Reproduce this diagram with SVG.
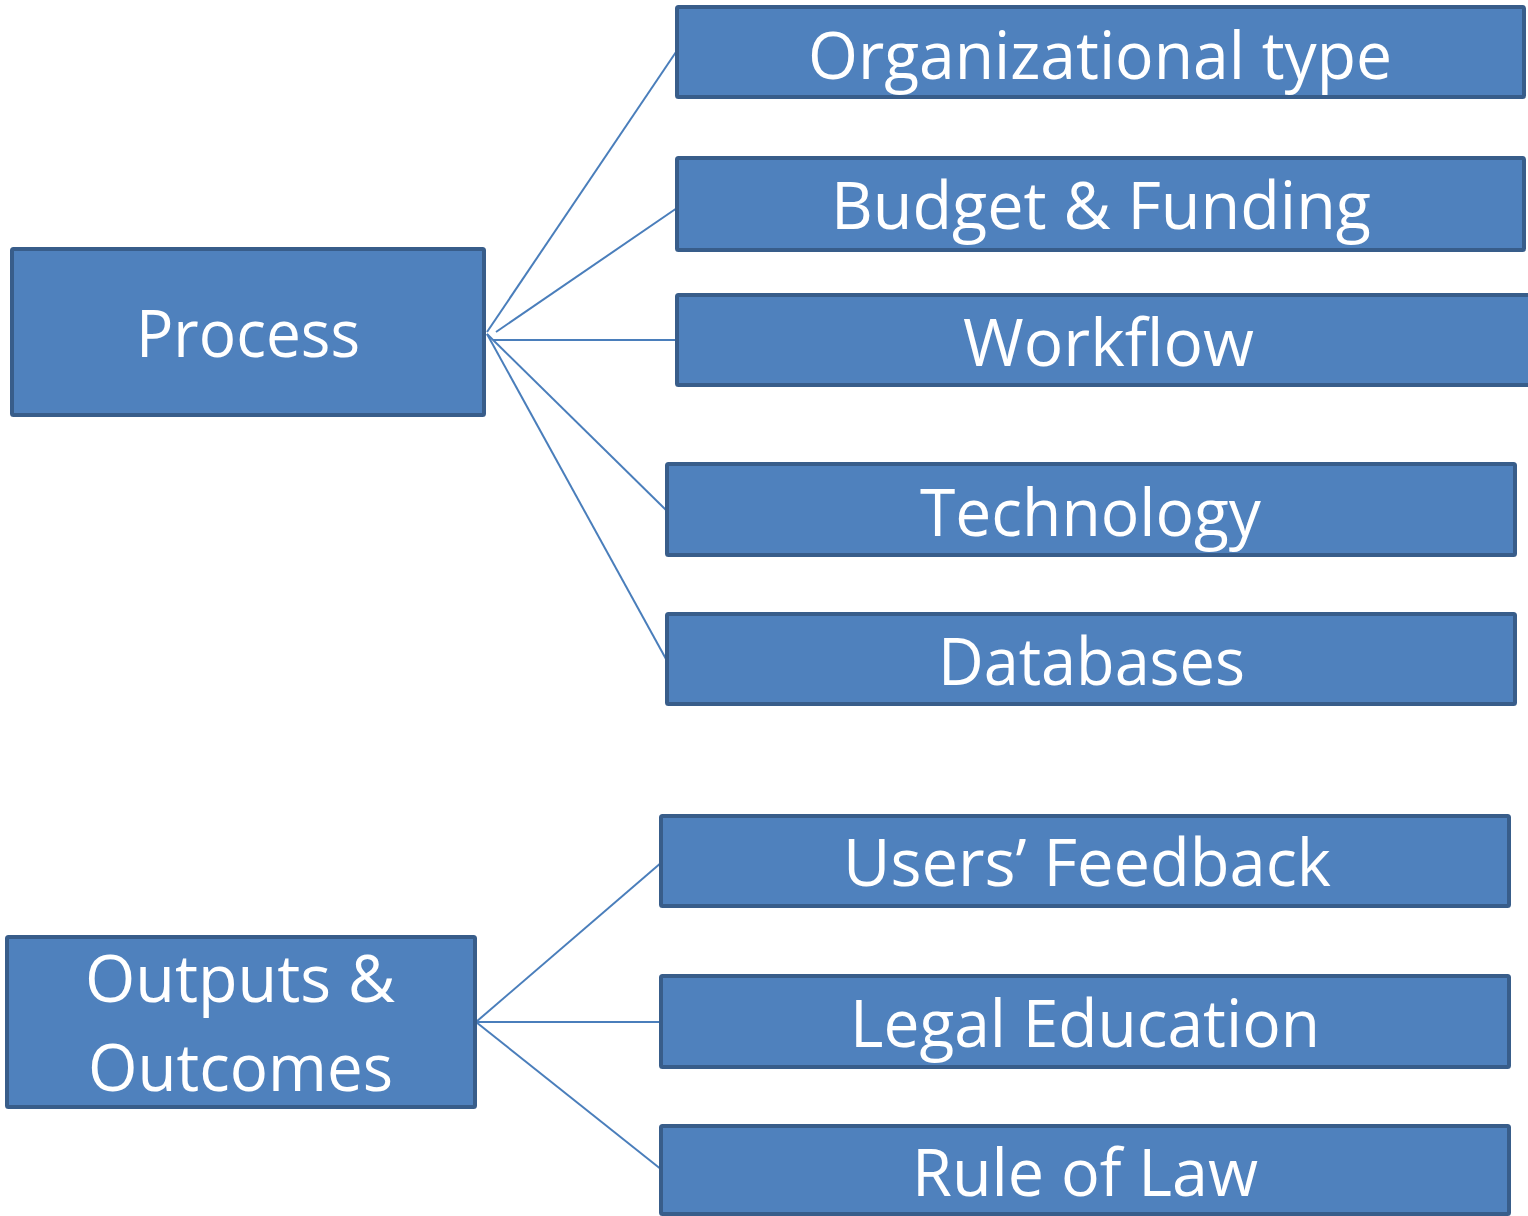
<svg xmlns="http://www.w3.org/2000/svg" width="1528" height="1216" viewBox="0 0 1528 1216">
<style>
.box{fill:#4F81BD;stroke:#385D8A;stroke-width:4}
.lbl{fill:#FFFFFF;font-family:"Open Sans","Noto Sans","Liberation Sans",sans-serif;font-size:66px}
.conn line{stroke:#4A7EBB;stroke-width:2;fill:none}
</style>
<rect width="1528" height="1216" fill="#FFFFFF"/>
<g id="connectors" class="conn">
<line x1="487" y1="332" x2="676" y2="52"/>
<line x1="496" y1="332" x2="677" y2="208"/>
<line x1="493" y1="340" x2="677" y2="340"/>
<line x1="487" y1="334" x2="666" y2="510"/>
<line x1="487" y1="334" x2="666" y2="659"/>
<line x1="476" y1="1022" x2="662" y2="862"/>
<line x1="476" y1="1022" x2="692" y2="1022"/>
<line x1="476" y1="1022" x2="662" y2="1170"/>
</g>
<g id="process">
<rect class="box" x="12" y="249" width="472" height="166" rx="1.5"/>
<text class="lbl" x="136" y="357" textLength="224" lengthAdjust="spacingAndGlyphs">Process</text>
</g>
<g id="outputs-outcomes">
<rect class="box" x="7" y="937" width="468" height="170" rx="1.5"/>
<text class="lbl" x="85" y="1002" textLength="310" lengthAdjust="spacingAndGlyphs">Outputs &amp;</text>
<text class="lbl" x="88" y="1091" textLength="305" lengthAdjust="spacingAndGlyphs">Outcomes</text>
</g>
<g id="organizational-type">
<rect class="box" x="677" y="7" width="847" height="90" rx="1.5"/>
<text class="lbl" x="808" y="79" textLength="584" lengthAdjust="spacingAndGlyphs">Organizational type</text>
</g>
<g id="budget-funding">
<rect class="box" x="677" y="158" width="847" height="92" rx="1.5"/>
<text class="lbl" x="831" y="229" textLength="540" lengthAdjust="spacingAndGlyphs">Budget &amp; Funding</text>
</g>
<g id="workflow">
<rect class="box" x="677" y="295" width="860" height="90" rx="1.5"/>
<text class="lbl" x="963" y="366" textLength="291" lengthAdjust="spacingAndGlyphs">Workflow</text>
</g>
<g id="technology">
<rect class="box" x="667" y="464" width="848" height="91" rx="1.5"/>
<text class="lbl" x="920" y="536" textLength="341" lengthAdjust="spacingAndGlyphs">Technology</text>
</g>
<g id="databases">
<rect class="box" x="667" y="614" width="848" height="90" rx="1.5"/>
<text class="lbl" x="938" y="685" textLength="307" lengthAdjust="spacingAndGlyphs">Databases</text>
</g>
<g id="users-feedback">
<rect class="box" x="661" y="816" width="848" height="90" rx="1.5"/>
<text class="lbl" x="843" y="886" textLength="488" lengthAdjust="spacingAndGlyphs">Users’ Feedback</text>
</g>
<g id="legal-education">
<rect class="box" x="661" y="976" width="848" height="91" rx="1.5"/>
<text class="lbl" x="850" y="1047" textLength="470" lengthAdjust="spacingAndGlyphs">Legal Education</text>
</g>
<g id="rule-of-law">
<rect class="box" x="661" y="1126" width="848" height="88" rx="1.5"/>
<text class="lbl" x="912" y="1196" textLength="346" lengthAdjust="spacingAndGlyphs">Rule of Law</text>
</g>
</svg>
